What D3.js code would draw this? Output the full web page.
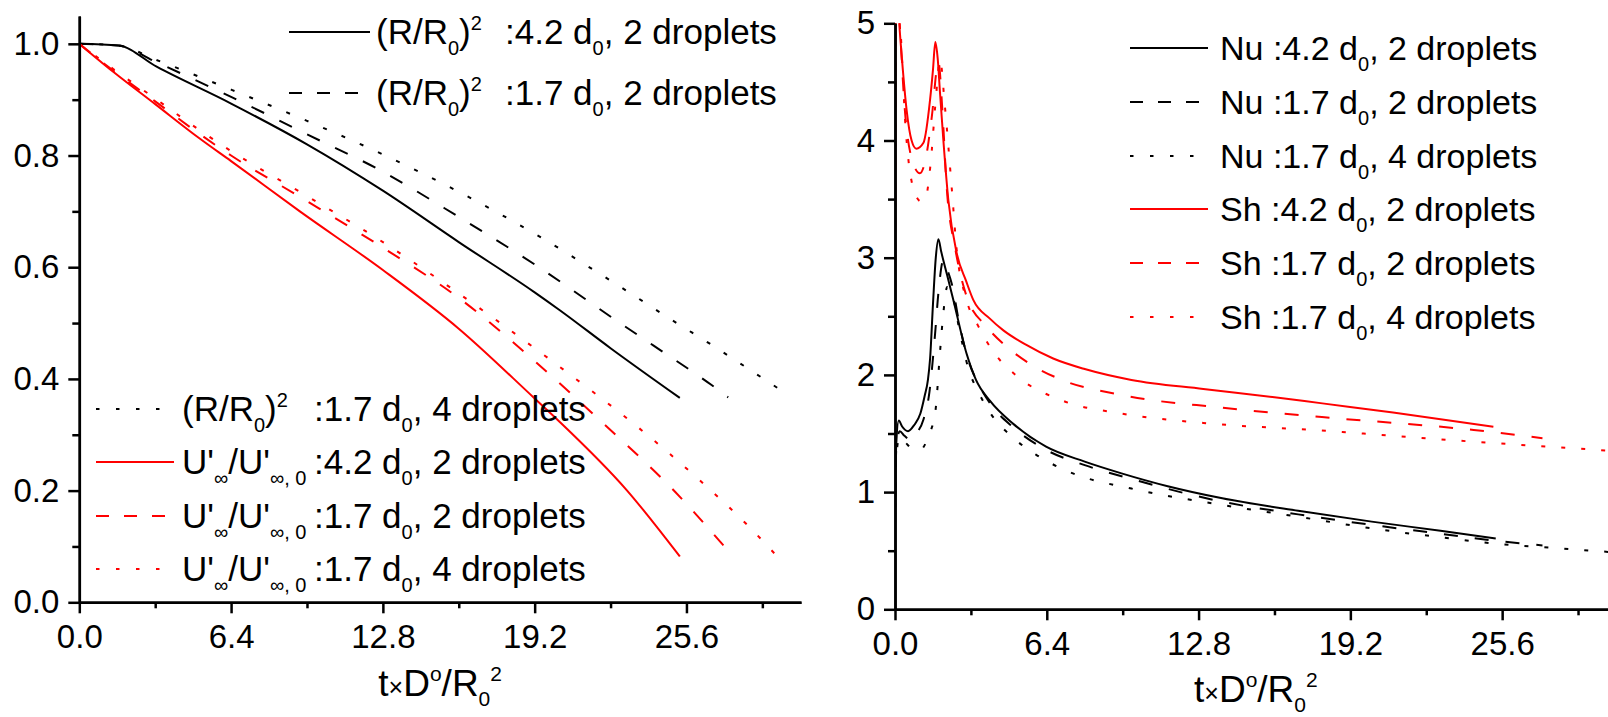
<!DOCTYPE html>
<html>
<head>
<meta charset="utf-8">
<script src="https://cdn.jsdelivr.net/npm/d3@7"></script>
<style>
  body { margin: 0; background: #fff; }
  svg { display: block; font-family: "Liberation Sans", Arial, sans-serif; }
  .axis path, .axis line { stroke: #000; stroke-width: 2.5; }
  .axis text { font-size: 33px; fill: #000; }
  .rich { white-space: pre; fill: #000; }
</style>
</head>
<body>
<svg id="chart" width="1608" height="717"></svg>
<script>
// ---- tick values ----
var xMajor = [0, 6.4, 12.8, 19.2, 25.6],
    xMinor = [3.2, 9.6, 16, 22.4, 28.8],
    leftYMajor = [0, 0.2, 0.4, 0.6, 0.8, 1.0],
    leftYMinor = [0.1, 0.3, 0.5, 0.7, 0.9],
    rightYMajor = [0, 1, 2, 3, 4, 5],
    rightYMinor = [0.5, 1.5, 2.5, 3.5, 4.5];

// ---- left panel: (R/R0)^2 and U'/U'0 vs time ----
var rr42x2T = [0, 1.65, 3.26, 6.4, 9.6, 12.8, 16, 19.2, 20.26, 22.4, 25.32],
    rr42x2Y = [1.0, 0.997, 0.959, 0.893, 0.82, 0.737, 0.645, 0.555, 0.523, 0.455, 0.366];
var rr17x2T = [0, 1.65, 3.2, 6.4, 9.6, 12.67, 16, 19.2, 22.8, 24.2, 26.66, 27.36],
    rr17x2Y = [1.0, 0.997, 0.968, 0.905, 0.838, 0.774, 0.69, 0.605, 0.50, 0.46, 0.389, 0.367];
var rr17x4T = [0, 1.65, 3.2, 6.4, 9.6, 12.54, 16, 19.2, 22.4, 25.19, 26.66, 28.07, 29.54],
    rr17x4Y = [1.0, 0.997, 0.972, 0.918, 0.862, 0.807, 0.735, 0.66, 0.576, 0.50, 0.461, 0.422, 0.381];
var u42x2T = [0, 1.43, 3.2, 5.09, 6.4, 9.3, 12.8, 16, 19.2, 20.26, 23.08, 25.32],
    u42x2Y = [1.0, 0.95, 0.892, 0.83, 0.79, 0.70, 0.595, 0.49, 0.365, 0.323, 0.201, 0.082];
var u17x2T = [0, 1.43, 3.2, 5.09, 6.4, 9.3, 12.8, 16, 19.2, 22.1, 25.14, 27.3],
    u17x2Y = [1.0, 0.952, 0.897, 0.838, 0.80, 0.726, 0.635, 0.545, 0.432, 0.32, 0.197, 0.095];
var u17x4T = [0, 1.43, 3.2, 5.09, 6.4, 9.3, 12.8, 16, 19.2, 20.4, 23.57, 26.17, 28.2, 29.54],
    u17x4Y = [1.0, 0.955, 0.902, 0.845, 0.808, 0.735, 0.645, 0.553, 0.455, 0.417, 0.313, 0.218, 0.137, 0.077];

// ---- right panel: Nu and Sh vs time ----
var nu42x2T = [0, 0.05, 0.16, 0.3, 0.55, 0.8, 1.07, 1.25, 1.39, 1.48, 1.6, 1.72, 1.83, 1.95, 2.2, 2.46, 3.02, 3.41, 4.0, 5.0, 6.37, 8.0, 9.55, 11.5, 13.8, 17.0, 20.1, 23.0, 25.33],
    nu42x2Y = [0.7, 1.4, 1.61, 1.56, 1.52, 1.57, 1.67, 1.82, 1.96, 2.14, 2.6, 3.0, 3.157, 3.05, 2.85, 2.64, 2.18, 1.96, 1.78, 1.58, 1.387, 1.26, 1.16, 1.05, 0.947, 0.84, 0.748, 0.67, 0.605];
var nu17x2T = [0, 0.05, 0.2, 0.4, 0.65, 0.9, 1.2, 1.45, 1.69, 1.83, 2.04, 2.2, 2.39, 2.74, 3.1, 3.5, 4.0, 5.0, 6.37, 8.0, 10.0, 13.8, 17.0, 20.1, 23.0, 25.33, 27.3],
    nu17x2Y = [0.7, 1.35, 1.52, 1.48, 1.445, 1.5, 1.62, 1.85, 2.35, 2.70, 2.98, 2.9, 2.78, 2.41, 2.12, 1.93, 1.76, 1.55, 1.36, 1.23, 1.11, 0.918, 0.81, 0.72, 0.645, 0.585, 0.545];
var nu17x4T = [0, 0.05, 0.2, 0.45, 0.75, 1.07, 1.3, 1.5, 1.71, 1.9, 2.05, 2.2, 2.4, 2.7, 3.1, 3.5, 4.0, 5.0, 5.94, 7.5, 9.97, 13.8, 17.0, 20.1, 23.0, 25.33, 28.0, 30.4],
    nu17x4Y = [0.7, 1.3, 1.47, 1.42, 1.37, 1.36, 1.42, 1.52, 1.7, 2.2, 2.55, 2.75, 2.7, 2.4, 2.05, 1.86, 1.68, 1.46, 1.32, 1.16, 1.03, 0.89, 0.79, 0.69, 0.615, 0.56, 0.52, 0.485];
var sh42x2T = [0, 0.03, 0.18, 0.3, 0.49, 0.7, 0.9, 1.2, 1.48, 1.6, 1.7, 1.8, 1.9, 2.04, 2.25, 2.6, 3.0, 3.3, 4.0, 4.57, 5.5, 6.67, 8.0, 9.97, 13.0, 16.0, 18.02, 21.0, 25.23],
    sh42x2Y = [1.9, 5.6, 5.0, 4.68, 4.26, 4.0, 3.93, 3.98, 4.35, 4.6, 4.84, 4.7, 4.4, 4.0, 3.49, 3.04, 2.8, 2.64, 2.48, 2.38, 2.26, 2.14, 2.05, 1.957, 1.88, 1.81, 1.757, 1.68, 1.558];
var sh17x2T = [0, 0.03, 0.2, 0.4, 0.7, 1.05, 1.3, 1.55, 1.83, 2.0, 2.18, 2.53, 3.02, 3.87, 4.71, 5.8, 7.0, 9.5, 13.8, 18.0, 24.4, 27.3],
    sh17x2Y = [1.9, 5.6, 5.0, 4.3, 3.85, 3.72, 3.85, 4.2, 4.67, 4.25, 3.6, 3.09, 2.67, 2.41, 2.24, 2.08, 1.96, 1.83, 1.72, 1.64, 1.53, 1.46];
var sh17x4T = [0, 0.03, 0.22, 0.45, 0.84, 1.1, 1.26, 1.5, 1.7, 1.9, 2.1, 2.39, 2.6, 3.0, 3.5, 4.14, 5.2, 7.0, 9.55, 13.0, 18.0, 24.4, 30.4],
    sh17x4Y = [1.9, 5.6, 5.0, 4.1, 3.55, 3.48, 3.49, 3.8, 4.3, 4.69, 4.3, 3.6, 3.07, 2.65, 2.42, 2.2, 1.98, 1.785, 1.67, 1.59, 1.525, 1.43, 1.35];

// ---- legend text ----
var rrName = [["(R/R"], ["0", "sub"], [")"], ["2", "sup"]],
    uName = [["U'"], ["\u221e", "sub"], ["/U'"], ["\u221e, 0", "sub"]],
    nuName = [["Nu "]],
    shName = [["Sh "]],
    desc42x2 = [[":4.2 d"], ["0", "sub"], [", 2 droplets"]],
    desc17x2 = [[":1.7 d"], ["0", "sub"], [", 2 droplets"]],
    desc17x4 = [[":1.7 d"], ["0", "sub"], [", 4 droplets"]],
    xTitle = [["t"], ["\u00d7", "small"], ["D"], ["o", "sup"], ["/R"], ["0", "sub"], ["2", "sup"]];

var RED = "#ff0000", BLACK = "#000000";
var dashStyle = {solid: null, dash: "14,17", dot: "4,16"};
var legendDash = {solid: null, dash: "13,15", dot: "3.5,16.5"};

var svg = d3.select("#chart");

function zip(ts, ys) { return ts.map(function(t, i) { return [t, ys[i]]; }); }

function addRich(text, parts, sub, sup, small) {
    var off = 0;
    parts.forEach(function(p) {
        var kind = p[1], shift = kind === "sub" ? sub : kind === "sup" ? sup : 0;
        var ts = text.append("tspan").attr("dy", shift - off).text(p[0]);
        if (kind === "sub" || kind === "sup") ts.attr("font-size", small);
        if (kind === "small") ts.attr("font-size", small + 4);
        off = shift;
    });
}

function drawPanel(opts) {
    var innerW = 721.7, innerH = opts.innerH;
    var x = d3.scaleLinear().domain([0, 30.43]).range([0, innerW]),
        y = d3.scaleLinear().domain([0, opts.yMax]).range([innerH, 0]);

    var g = svg.append("g").attr("transform", "translate(" + opts.left + "," + opts.top + ")");

    var clipId = "clip-" + opts.name;
    g.append("clipPath").attr("id", clipId)
        .append("rect").attr("x", 0).attr("y", 0).attr("width", innerW).attr("height", innerH);

    var line = d3.line()
        .x(function(d) { return x(d[0]); })
        .y(function(d) { return y(d[1]); })
        .curve(d3.curveMonotoneX);

    g.append("g").attr("clip-path", "url(#" + clipId + ")")
        .selectAll("path")
        .data(opts.series)
        .enter()
        .append("path")
        .attr("d", function(s) { return line(s.data); })
        .attr("fill", "none")
        .attr("stroke", function(s) { return s.color; })
        .attr("stroke-width", 2)
        .attr("stroke-dasharray", function(s) { return dashStyle[s.style]; });

    // x axis
    g.append("g").attr("class", "axis")
        .attr("transform", "translate(0," + innerH + ")")
        .call(d3.axisBottom(x).tickValues(xMinor).tickFormat("").tickSize(6).tickSizeOuter(0));
    g.append("g").attr("class", "axis")
        .attr("transform", "translate(0," + innerH + ")")
        .call(d3.axisBottom(x).tickValues(xMajor).tickFormat(d3.format(".1f")).tickSize(11).tickPadding(11).tickSizeOuter(0));

    // y axis
    g.append("g").attr("class", "axis")
        .call(d3.axisLeft(y).tickValues(opts.yMinor).tickFormat("").tickSize(7).tickSizeOuter(0));
    g.append("g").attr("class", "axis")
        .call(d3.axisLeft(y).tickValues(opts.yMajor).tickFormat(d3.format(opts.yFmt)).tickSize(11).tickPadding(9).tickSizeOuter(0));

    var title = svg.append("text").attr("class", "rich")
        .attr("x", opts.left + innerW / 2)
        .attr("y", opts.top + innerH + opts.titleGap)
        .attr("text-anchor", "middle")
        .attr("font-size", 37);
    addRich(title, xTitle, 10, -15, 21);
}

function drawLegend(items, lx1, lx2, textX, colonX, rows, size) {
    items.forEach(function(it, i) {
        var yy = rows[i];
        svg.append("line")
            .attr("x1", lx1).attr("x2", lx2).attr("y1", yy).attr("y2", yy)
            .attr("stroke", it.color).attr("stroke-width", 2)
            .attr("stroke-dasharray", legendDash[it.style]);
        var t = svg.append("text").attr("class", "rich")
            .attr("x", textX).attr("y", yy + 12).attr("font-size", size);
        if (colonX == null) {
            addRich(t, it.name.concat(it.desc), 11, -14, 20);
        } else {
            addRich(t, it.name, 11, -14, 20);
            var d = svg.append("text").attr("class", "rich")
                .attr("x", colonX).attr("y", yy + 12).attr("font-size", size);
            addRich(d, it.desc, 11, -14, 20);
        }
    });
}

var leftSeries = [
    {data: zip(rr42x2T, rr42x2Y), color: BLACK, style: "solid", name: rrName, desc: desc42x2},
    {data: zip(rr17x2T, rr17x2Y), color: BLACK, style: "dash", name: rrName, desc: desc17x2},
    {data: zip(rr17x4T, rr17x4Y), color: BLACK, style: "dot", name: rrName, desc: desc17x4},
    {data: zip(u42x2T, u42x2Y), color: RED, style: "solid", name: uName, desc: desc42x2},
    {data: zip(u17x2T, u17x2Y), color: RED, style: "dash", name: uName, desc: desc17x2},
    {data: zip(u17x4T, u17x4Y), color: RED, style: "dot", name: uName, desc: desc17x4}
];

var rightSeries = [
    {data: zip(nu42x2T, nu42x2Y), color: BLACK, style: "solid", name: nuName, desc: desc42x2},
    {data: zip(nu17x2T, nu17x2Y), color: BLACK, style: "dash", name: nuName, desc: desc17x2},
    {data: zip(nu17x4T, nu17x4Y), color: BLACK, style: "dot", name: nuName, desc: desc17x4},
    {data: zip(sh42x2T, sh42x2Y), color: RED, style: "solid", name: shName, desc: desc42x2},
    {data: zip(sh17x2T, sh17x2Y), color: RED, style: "dash", name: shName, desc: desc17x2},
    {data: zip(sh17x4T, sh17x4Y), color: RED, style: "dot", name: shName, desc: desc17x4}
];

drawPanel({name: "left", left: 79.3, top: 15.9, innerH: 586.4, yMax: 1.05, titleGap: 94,
    yMajor: leftYMajor, yMinor: leftYMinor, yFmt: ".1f", series: leftSeries});
drawPanel({name: "right", left: 895, top: 23.3, innerH: 586, yMax: 5, titleGap: 93,
    yMajor: rightYMajor, yMinor: rightYMinor, yFmt: "d", series: rightSeries});

drawLegend(leftSeries.slice(0, 2), 289, 370, 376, 505, [32, 93], 35);
drawLegend(leftSeries.slice(2), 96, 174, 182, 314, [409, 462, 516, 569], 35);
drawLegend(rightSeries, 1130, 1208, 1220, null, [48, 102, 156, 209, 263, 317], 34);
</script>
</body>
</html>
